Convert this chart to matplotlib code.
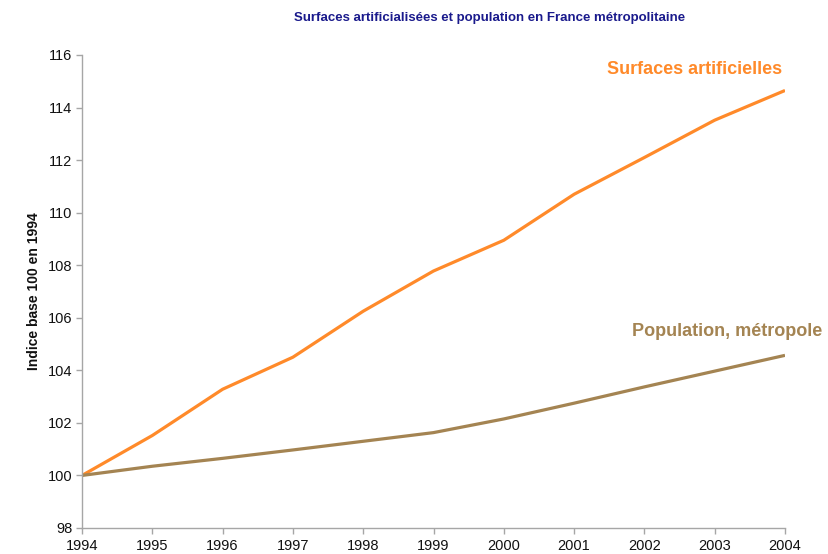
import matplotlib
matplotlib.use("Agg")
import matplotlib.pyplot as plt

years = [1994, 1995, 1996, 1997, 1998, 1999, 2000, 2001, 2002, 2003, 2004]
surfaces = [100.0, 101.52, 103.28, 104.5, 106.25, 107.78, 108.95, 110.7, 112.1, 113.52, 114.65]
population = [100.0, 100.35, 100.65, 100.97, 101.3, 101.63, 102.15, 102.75, 103.37, 103.97, 104.57]
yticks = [98, 100, 102, 104, 106, 108, 110, 112, 114, 116]

orange = "#FF8A2A"
tan = "#A48452"

plt.rcParams['font.family'] = ['Liberation Sans', 'DejaVu Sans']

fig = plt.figure(figsize=(8.29, 5.54), dpi=100)
ax = fig.add_axes([82/829, 26/554, (785-82)/829, (528-55)/554])

ax.plot(years, surfaces, color=orange, lw=2.3, solid_capstyle='butt')
ax.plot(years, population, color=tan, lw=2.3, solid_capstyle='butt')

ax.set_xlim(1994, 2004)
ax.set_ylim(98, 116)
ax.set_xticks(years)
ax.set_xticklabels([str(y) for y in years])
ax.set_yticks(yticks)
ax.set_yticklabels([str(v) for v in yticks])

for s in ['top', 'right']:
    ax.spines[s].set_visible(False)
for s in ['left', 'bottom']:
    ax.spines[s].set_color('#A6A6A6')
    ax.spines[s].set_linewidth(1.0)
ax.tick_params(axis='both', colors='#A6A6A6', labelcolor='#111111', labelsize=10.5, length=4, width=1)
ax.tick_params(axis='x', pad=4)
ax.tick_params(axis='y', pad=3)

ax.set_ylabel("Indice base 100 en 1994", fontsize=10, fontweight='bold', color='#111111', labelpad=5)

fig.text(490/829, 1 - 18/554, "Surfaces artificialisées et population en France métropolitaine",
         ha='center', va='center', fontsize=9.5, fontweight='bold', color='#1A1A8C')

ax.text(782/829, 1 - 70/554, "Surfaces artificielles", transform=fig.transFigure,
        ha='right', va='center', fontsize=13, fontweight='bold', color=orange)
ax.text(822/829, 1 - 331/554, "Population, métropole", transform=fig.transFigure,
        ha='right', va='center', fontsize=13, fontweight='bold', color=tan)

fig.savefig("out.png", dpi=100)
